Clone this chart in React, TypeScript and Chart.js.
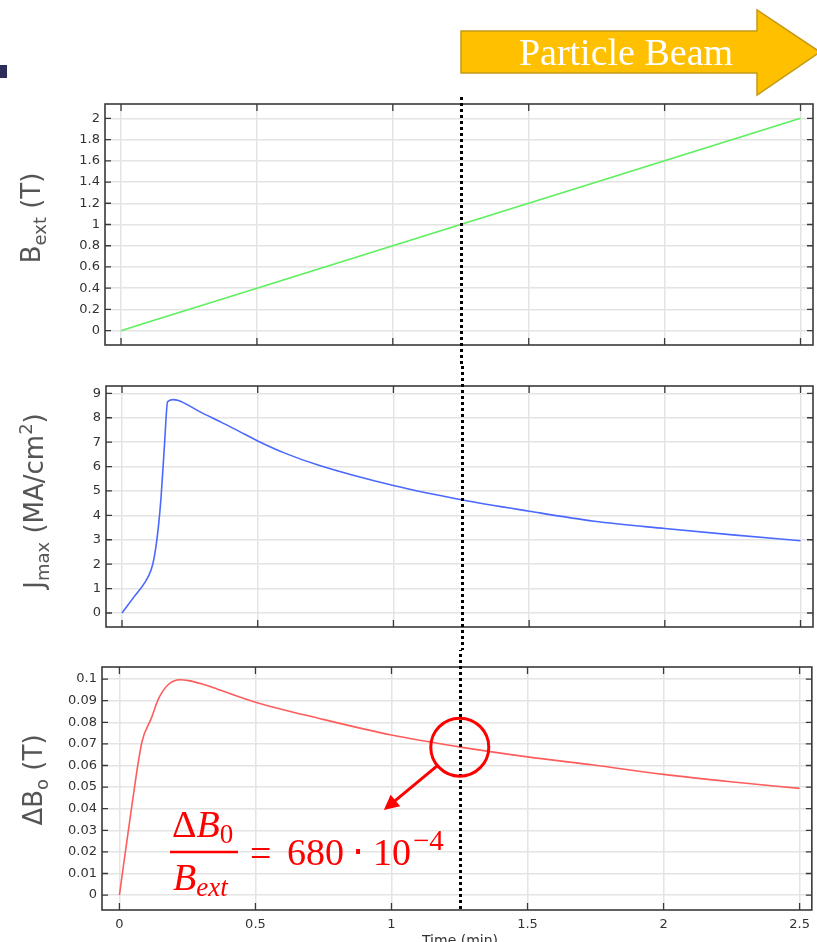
import React, { useEffect, useRef } from "react";
import { Chart, registerables } from "chart.js";
Chart.register(...registerables);

// ---------- data ----------
const X_TICKS = [0, 0.5, 1, 1.5, 2, 2.5];
const X_TICK_LABELS = ["0", "0.5", "1", "1.5", "2", "2.5"];

const B_TIME = [0, 0.5, 1, 1.5, 2, 2.5];
const B_EXT = [0, 0.4, 0.8, 1.2, 1.6, 2.0];
const B_TICKS = [0, 0.2, 0.4, 0.6, 0.8, 1, 1.2, 1.4, 1.6, 1.8, 2];
const B_TICK_LABELS = ["0", "0.2", "0.4", "0.6", "0.8", "1", "1.2", "1.4", "1.6", "1.8", "2"];

const J_TIME = [0, 0.045, 0.082, 0.107, 0.119, 0.134, 0.144, 0.156, 0.168, 0.187, 0.205, 0.291, 0.365, 0.43, 0.5, 0.6, 0.725, 1.0, 1.25, 1.5, 1.74, 2.0, 2.25, 2.5];
const J_MAX = [0, 0.67, 1.21, 1.76, 2.3, 3.53, 4.76, 6.8, 8.65, 8.74, 8.72, 8.22, 7.82, 7.45, 7.05, 6.55, 6.05, 5.22, 4.64, 4.17, 3.76, 3.46, 3.2, 2.96];
const J_TICKS = [0, 1, 2, 3, 4, 5, 6, 7, 8, 9];
const J_TICK_LABELS = ["0", "1", "2", "3", "4", "5", "6", "7", "8", "9"];

const DB_TIME = [0, 0.046, 0.083, 0.117, 0.144, 0.18, 0.223, 0.254, 0.302, 0.363, 0.5, 0.734, 1.0, 1.26, 1.5, 1.742, 2.0, 2.247, 2.5];
const DB_VALUES = [0, 0.0417, 0.071, 0.0818, 0.091, 0.0975, 0.0997, 0.0993, 0.0978, 0.0952, 0.0893, 0.0818, 0.0741, 0.0684, 0.064, 0.0602, 0.0559, 0.0525, 0.0494];
const DB_TICKS = [0, 0.01, 0.02, 0.03, 0.04, 0.05, 0.06, 0.07, 0.08, 0.09, 0.1];
const DB_TICK_LABELS = ["0", "0.01", "0.02", "0.03", "0.04", "0.05", "0.06", "0.07", "0.08", "0.09", "0.1"];

const MARK_TIME = 1.251;
const MARK_VALUE = 0.0685;
const ARROW_TIP_TIME = 0.972;
const ARROW_TIP_VALUE = 0.0394;

const X_TITLE = "Time (min)";
const BEAM_TEXT = "Particle Beam";

const W = 817;

type Panel = {
  key: string;
  top: number;
  height: number;
  padTop: number;
  axisWidth: number;
  xAxisHeight: number;
  xMin: number;
  xMax: number;
  yMin: number;
  yMax: number;
  times: number[];
  values: number[];
  color: string;
  yTicks: number[];
  yLabels: string[];
  showX: boolean;
  title: [string, string, string, string];
  titleBaseX: number;
  titleCenterY: number;
  dotStart: number;
  dotToArea: boolean;
  extra?: (ctx: CanvasRenderingContext2D, chart: any) => void;
};

function drawRotatedTitle(ctx: CanvasRenderingContext2D, parts: [string, string, string, string], baseX: number, centerY: number) {
  const big = 26;
  const small = 18;
  ctx.save();
  ctx.fillStyle = "#555555";
  ctx.textBaseline = "alphabetic";
  ctx.textAlign = "left";
  const fBig = `${big}px "DejaVu Sans"`;
  const fSmall = `${small}px "DejaVu Sans"`;
  const [main, sub, rest, sup] = parts;
  ctx.font = fBig;
  const wMain = ctx.measureText(main).width;
  const wRest = ctx.measureText(rest).width;
  const wClose = sup ? ctx.measureText(")").width : 0;
  ctx.font = fSmall;
  const wSub = ctx.measureText(sub).width;
  const wSup = sup ? ctx.measureText(sup).width : 0;
  const total = wMain + wSub + wRest + wSup + wClose;
  ctx.translate(baseX, centerY);
  ctx.rotate(-Math.PI / 2);
  let x = -total / 2;
  ctx.font = fBig;
  ctx.fillText(main, x, 0);
  x += wMain;
  ctx.font = fSmall;
  ctx.fillText(sub, x, 6);
  x += wSub;
  ctx.font = fBig;
  ctx.fillText(rest, x, 0);
  x += wRest;
  if (sup) {
    ctx.font = fSmall;
    ctx.fillText(sup, x, -11);
    x += wSup;
    ctx.font = fBig;
    ctx.fillText(")", x, 0);
  }
  ctx.restore();
}

function drawBeamArrow(ctx: CanvasRenderingContext2D) {
  ctx.save();
  ctx.beginPath();
  ctx.moveTo(461, 31);
  ctx.lineTo(757, 31);
  ctx.lineTo(757, 10);
  ctx.lineTo(820, 52);
  ctx.lineTo(757, 95);
  ctx.lineTo(757, 73);
  ctx.lineTo(461, 73);
  ctx.closePath();
  ctx.fillStyle = "#FFC000";
  ctx.fill();
  ctx.strokeStyle = "#C49A14";
  ctx.lineWidth = 1.5;
  ctx.stroke();
  ctx.fillStyle = "#ffffff";
  ctx.font = '38px "Liberation Serif"';
  ctx.textAlign = "center";
  ctx.textBaseline = "alphabetic";
  ctx.fillText(BEAM_TEXT, 626, 65);
  ctx.fillStyle = "#2d2d5a";
  ctx.fillRect(0, 65, 7, 13);
  ctx.restore();
}

function drawAnnotation(ctx: CanvasRenderingContext2D, chart: any, pageTop: number) {
  const xs = chart.scales.x;
  const ys = chart.scales.y;
  const cx = xs.getPixelForValue(MARK_TIME);
  const cy = ys.getPixelForValue(MARK_VALUE);
  const tx = xs.getPixelForValue(ARROW_TIP_TIME);
  const ty = ys.getPixelForValue(ARROW_TIP_VALUE);
  const r = 29;
  ctx.save();
  ctx.strokeStyle = "#ff0000";
  ctx.fillStyle = "#ff0000";
  ctx.lineWidth = 3;
  ctx.setLineDash([]);
  ctx.beginPath();
  ctx.arc(cx, cy, r, 0, Math.PI * 2);
  ctx.stroke();
  const dx = tx - cx;
  const dy = ty - cy;
  const len = Math.hypot(dx, dy);
  const ux = dx / len;
  const uy = dy / len;
  const sx = cx + ux * r;
  const sy = cy + uy * r;
  const head = 15;
  const hw = 7.5;
  ctx.beginPath();
  ctx.moveTo(sx, sy);
  ctx.lineTo(tx - ux * head * 0.8, ty - uy * head * 0.8);
  ctx.stroke();
  ctx.beginPath();
  ctx.moveTo(tx, ty);
  ctx.lineTo(tx - ux * head - uy * hw, ty - uy * head + ux * hw);
  ctx.lineTo(tx - ux * head + uy * hw, ty - uy * head - ux * hw);
  ctx.closePath();
  ctx.fill();

  // formula (page coordinates)
  ctx.translate(0, -pageTop);
  ctx.textAlign = "left";
  ctx.textBaseline = "alphabetic";
  const up = '38px "Liberation Serif"';
  const it = 'italic 38px "Liberation Serif"';
  const sm = '27px "Liberation Serif"';
  const smIt = 'italic 27px "Liberation Serif"';
  // numerator
  ctx.font = up;
  ctx.fillText("\u0394", 172, 837);
  let w = ctx.measureText("\u0394").width;
  ctx.font = it;
  ctx.fillText("B", 172 + w, 837);
  w += ctx.measureText("B").width;
  ctx.font = sm;
  ctx.fillText("0", 172 + w, 843);
  // bar
  ctx.lineWidth = 2.5;
  ctx.beginPath();
  ctx.moveTo(170, 852);
  ctx.lineTo(238, 852);
  ctx.stroke();
  // denominator
  ctx.font = it;
  ctx.fillText("B", 173, 890);
  const wb = ctx.measureText("B").width;
  ctx.font = smIt;
  ctx.fillText("ext", 173 + wb, 896);
  // rest
  ctx.font = up;
  ctx.fillText("=", 250, 866);
  ctx.fillText("680", 287, 865);
  ctx.fillText("\u22C5", 352, 865);
  ctx.fillText("10", 373, 865);
  ctx.font = '29px "Liberation Serif"';
  ctx.fillText("\u22124", 413, 850);
  ctx.restore();
}

function makeChart(canvas: HTMLCanvasElement, p: Panel) {
  const data = p.times.map((t, i) => ({ x: t, y: p.values[i] }));
  const deco = {
    id: "deco_" + p.key,
    afterDraw(chart: any) {
      const ctx: CanvasRenderingContext2D = chart.ctx;
      const xs = chart.scales.x;
      const ys = chart.scales.y;
      const { left, right, top, bottom } = chart.chartArea;
      ctx.save();
      // frame
      ctx.strokeStyle = "#3a3a3a";
      ctx.lineWidth = 1.6;
      ctx.strokeRect(left, top, right - left, bottom - top);
      ctx.lineWidth = 1.3;
      ctx.beginPath();
      X_TICKS.forEach((v) => {
        const px = xs.getPixelForValue(v);
        ctx.moveTo(px, bottom);
        ctx.lineTo(px, bottom - 7);
        ctx.moveTo(px, top);
        ctx.lineTo(px, top + 7);
      });
      p.yTicks.forEach((v) => {
        const py = ys.getPixelForValue(v);
        ctx.moveTo(left, py);
        ctx.lineTo(left + 6, py);
        ctx.moveTo(right, py);
        ctx.lineTo(right - 6, py);
      });
      ctx.stroke();
      // dotted marker line
      const dx = Math.round(xs.getPixelForValue(MARK_TIME)) + 0.5;
      ctx.strokeStyle = "#000000";
      ctx.lineWidth = 3;
      ctx.setLineDash([3, 3]);
      ctx.lineDashOffset = p.top % 6;
      ctx.beginPath();
      ctx.moveTo(dx, p.dotStart);
      ctx.lineTo(dx, p.dotToArea ? bottom : p.height);
      ctx.stroke();
      ctx.setLineDash([]);
      // y title
      drawRotatedTitle(ctx, p.title, p.titleBaseX, p.titleCenterY - p.top);
      ctx.restore();
      if (p.extra) p.extra(ctx, chart);
    },
  };

  return new Chart(canvas, {
    type: "line",
    data: {
      datasets: [
        {
          data,
          borderColor: p.color,
          borderWidth: 1.6,
          pointRadius: 0,
          fill: false,
          cubicInterpolationMode: "monotone",
        },
      ],
    },
    options: {
      responsive: false,
      animation: false,
      devicePixelRatio: 1,
      layout: { padding: { top: p.padTop, right: 4, left: 0, bottom: 0 } },
      plugins: { legend: { display: false }, tooltip: { enabled: false } },
      scales: {
        x: {
          type: "linear",
          min: p.xMin,
          max: p.xMax,
          afterBuildTicks: (s: any) => {
            s.ticks = X_TICKS.map((v) => ({ value: v }));
          },
          afterFit: (s: any) => {
            s.height = p.xAxisHeight;
          },
          grid: { color: "#e4e4e4", lineWidth: 1.5, drawTicks: false },
          border: { display: false },
          ticks: {
            display: p.showX,
            padding: 7,
            maxRotation: 0,
            autoSkip: false,
            color: "#333333",
            font: { family: "DejaVu Sans", size: 13 },
            callback: (_v: any, i: number) => X_TICK_LABELS[i],
          },
        },
        y: {
          type: "linear",
          min: p.yMin,
          max: p.yMax,
          afterBuildTicks: (s: any) => {
            s.ticks = p.yTicks.map((v) => ({ value: v }));
          },
          afterFit: (s: any) => {
            s.width = p.axisWidth;
          },
          grid: { color: "#e4e4e4", lineWidth: 1.5, drawTicks: false },
          border: { display: false },
          ticks: {
            padding: 5,
            autoSkip: false,
            color: "#333333",
            font: { family: "DejaVu Sans", size: 13 },
            callback: (_v: any, i: number) => p.yLabels[i],
          },
        },
      },
    },
    plugins: [deco],
  } as any);
}

const PANELS: Panel[] = [
  {
    key: "b",
    top: 0,
    height: 365,
    padTop: 104,
    axisWidth: 105,
    xAxisHeight: 20,
    xMin: -0.059,
    xMax: 2.546,
    yMin: -0.135,
    yMax: 2.135,
    times: B_TIME,
    values: B_EXT,
    color: "#5cf05c",
    yTicks: B_TICKS,
    yLabels: B_TICK_LABELS,
    showX: false,
    title: ["B", "ext", " (T)", ""],
    titleBaseX: 40,
    titleCenterY: 218,
    dotStart: 97,
    dotToArea: false,
    extra: (ctx) => drawBeamArrow(ctx),
  },
  {
    key: "j",
    top: 365,
    height: 285,
    padTop: 21,
    axisWidth: 106,
    xAxisHeight: 23,
    xMin: -0.059,
    xMax: 2.546,
    yMin: -0.574,
    yMax: 9.3,
    times: J_TIME,
    values: J_MAX,
    color: "#4a68ff",
    yTicks: J_TICKS,
    yLabels: J_TICK_LABELS,
    showX: false,
    title: ["J", "max", " (MA/cm", "2"],
    titleBaseX: 43,
    titleCenterY: 501,
    dotStart: 0,
    dotToArea: false,
  },
  {
    key: "d",
    top: 650,
    height: 292,
    padTop: 17,
    axisWidth: 102,
    xAxisHeight: 32,
    xMin: -0.064,
    xMax: 2.545,
    yMin: -0.0069,
    yMax: 0.1056,
    times: DB_TIME,
    values: DB_VALUES,
    color: "#ff5c5c",
    yTicks: DB_TICKS,
    yLabels: DB_TICK_LABELS,
    showX: true,
    title: ["\u0394B", "o", " (T)", ""],
    titleBaseX: 42,
    titleCenterY: 780,
    dotStart: 0,
    dotToArea: true,
    extra: (ctx, chart) => {
      drawAnnotation(ctx, chart, 650);
      ctx.save();
      ctx.fillStyle = "#333333";
      ctx.font = '14px "DejaVu Sans"';
      ctx.textAlign = "center";
      ctx.textBaseline = "top";
      ctx.fillText(X_TITLE, 460, 934 - 650);
      ctx.restore();
    },
  },
];

export default function App() {
  const r1 = useRef<HTMLCanvasElement>(null);
  const r2 = useRef<HTMLCanvasElement>(null);
  const r3 = useRef<HTMLCanvasElement>(null);

  useEffect(() => {
    const refs = [r1, r2, r3];
    const charts = PANELS.map((p, i) => makeChart(refs[i].current as HTMLCanvasElement, p));
    return () => charts.forEach((c) => c.destroy());
  }, []);

  const refs = [r1, r2, r3];
  return (
    <div style={{ position: "absolute", left: 0, top: 0, width: W, height: 942, background: "#ffffff", overflow: "hidden" }}>
      {PANELS.map((p, i) => (
        <canvas
          key={p.key}
          ref={refs[i]}
          width={W}
          height={p.height}
          style={{ position: "absolute", left: 0, top: p.top, width: W, height: p.height, display: "block" }}
        />
      ))}
    </div>
  );
}
